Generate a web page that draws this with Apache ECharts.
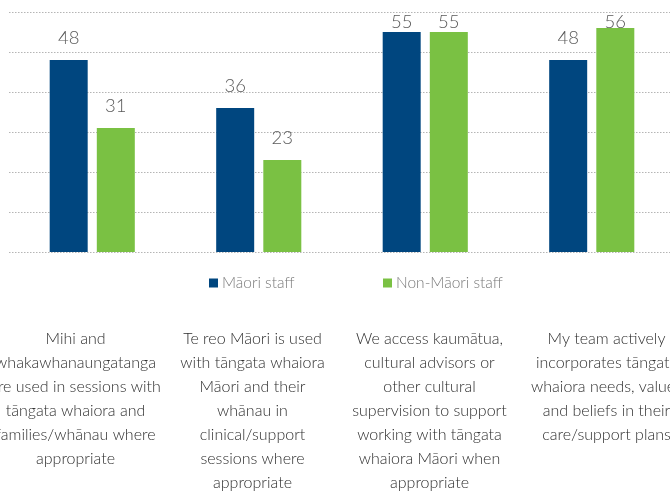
<!DOCTYPE html>
<html>
<head>
<meta charset="utf-8">
<script src="https://cdn.jsdelivr.net/npm/echarts@6/dist/echarts.min.js"></script>
<style>
html,body{margin:0;padding:0;background:#fff;}
#chart{width:670px;height:493px;}
</style>
</head>
<body>
<div id="chart"></div>
<script>
const categories = [
  'Mihi and\nwhakawhanaungatanga\nare used in sessions with\ntāngata whaiora and\nfamilies/whānau where\nappropriate',
  'Te reo Māori is used\nwith tāngata whaiora\nMāori and their\nwhānau in\nclinical/support\nsessions where\nappropriate',
  'We access kaumātua,\ncultural advisors or\nother cultural\nsupervision to support\nworking with tāngata\nwhaiora Māori when\nappropriate',
  'My team actively\nincorporates tāngata\nwhaiora needs, values\nand beliefs in their\ncare/support plans'
];
const seriesNames = ['Māori staff', 'Non-Māori staff'];
const maoriStaff = [48, 36, 55, 48];
const nonMaoriStaff = [31, 23, 55, 56];
const yTicks = [0, 10, 20, 30, 40, 50, 60];

const FONT = 'Lato, "Open Sans", sans-serif';
const chart = echarts.init(document.getElementById('chart'), null, {renderer: 'canvas'});

const labelCfg = {
  show: true,
  position: 'top',
  distance: 12,
  fontFamily: FONT,
  fontWeight: 300,
  fontSize: 18.5,
  color: '#5a5a5a'
};
const legendText = {fontFamily: FONT, fontWeight: 300, fontSize: 15.5, color: '#7a7a7a', padding: [0, 0, 0, -1]};

chart.setOption({
  animation: false,
  backgroundColor: '#ffffff',
  legend: [
    {
      left: 209, top: 275, padding: 0,
      data: [seriesNames[0]],
      icon: 'rect', itemWidth: 9, itemHeight: 9,
      textStyle: legendText,
      selectedMode: false
    },
    {
      left: 383, top: 275, padding: 0,
      data: [seriesNames[1]],
      icon: 'rect', itemWidth: 9, itemHeight: 9,
      textStyle: legendText,
      selectedMode: false
    }
  ],
  grid: [
    {left: 9, right: -5, top: 12, height: 240, containLabel: false, outerBoundsMode: 'none'},
    {left: -13, right: -25, top: 300, height: 10, containLabel: false, outerBoundsMode: 'none'}
  ],
  xAxis: [
    {
      type: 'category', gridIndex: 0, data: categories,
      axisLine: {show: false}, axisTick: {show: false}, axisLabel: {show: false},
      splitLine: {show: false}
    },
    {
      type: 'category', gridIndex: 1, data: categories,
      axisLine: {show: false}, axisTick: {show: false}, splitLine: {show: false},
      axisLabel: {
        show: true, interval: 0, margin: 17,
        fontFamily: FONT, fontWeight: 300, fontSize: 16, lineHeight: 24,
        color: '#2e2e2e', align: 'center'
      }
    }
  ],
  yAxis: [
    {
      type: 'value', gridIndex: 0, min: yTicks[0], max: yTicks[yTicks.length - 1], interval: 10,
      axisLine: {show: false}, axisTick: {show: false}, axisLabel: {show: false},
      splitLine: {show: true, lineStyle: {color: '#b5b5b5', type: [1.5, 1.5], width: 1}}
    },
    {
      type: 'value', gridIndex: 1, show: false, min: 0, max: 1
    }
  ],
  series: [
    {
      name: seriesNames[0], type: 'bar', xAxisIndex: 0, yAxisIndex: 0,
      data: maoriStaff, barWidth: 38, barGap: '24%',
      itemStyle: {color: '#00467f'},
      label: labelCfg,
      labelLayout: function (p) {
        var minTop = 12.5;
        return p.labelRect.y < minTop ? {dy: minTop - p.labelRect.y} : {};
      }
    },
    {
      name: seriesNames[1], type: 'bar', xAxisIndex: 0, yAxisIndex: 0,
      data: nonMaoriStaff, barWidth: 38, barGap: '24%',
      itemStyle: {color: '#7ac143'},
      label: labelCfg,
      labelLayout: function (p) {
        var minTop = 12.5;
        return p.labelRect.y < minTop ? {dy: minTop - p.labelRect.y} : {};
      }
    }
  ]
});
</script>
</body>
</html>
